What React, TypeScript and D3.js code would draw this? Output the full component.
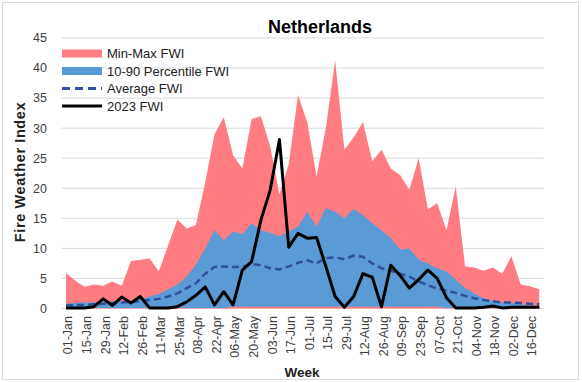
import React from 'react';
import * as d3 from 'd3';

const weeks = [
  '01-Jan', '08-Jan', '15-Jan', '22-Jan', '29-Jan', '05-Feb', '12-Feb', '19-Feb', '26-Feb', '04-Mar',
  '11-Mar', '18-Mar', '25-Mar', '01-Apr', '08-Apr', '15-Apr', '22-Apr', '29-Apr', '06-May', '13-May',
  '20-May', '27-May', '03-Jun', '10-Jun', '17-Jun', '24-Jun', '01-Jul', '08-Jul', '15-Jul', '22-Jul',
  '29-Jul', '05-Aug', '12-Aug', '19-Aug', '26-Aug', '02-Sep', '09-Sep', '16-Sep', '23-Sep', '30-Sep',
  '07-Oct', '14-Oct', '21-Oct', '28-Oct', '04-Nov', '11-Nov', '18-Nov', '25-Nov', '02-Dec', '09-Dec',
  '16-Dec', '23-Dec'
];

// Min-Max band
const minFwi = [
  0, 0, 0, 0, 0, 0, 0, 0, 0, 0,
  0, 0, 0, 0, 0, 0, 0, 0, 0, 0,
  0, 0, 0, 0, 0, 0, 0, 0, 0, 0,
  0, 0, 0, 0, 0, 0, 0, 0, 0, 0,
  0, 0, 0, 0, 0, 0, 0, 0, 0, 0,
  0, 0
];
const maxFwi = [
  5.9, 4.6, 3.6, 4.0, 3.8, 4.5, 3.8, 7.9, 8.1, 8.3,
  6.2, 10.5, 14.8, 13.3, 13.9, 21, 29, 31.8, 25.5, 23.3,
  31.5, 32, 27, 19, 24, 35.5, 31, 22, 30, 41.3,
  26.4, 28.5, 31, 24.5, 26.4, 23.3, 22.2, 19.7, 25, 16.5,
  17.5, 13, 20.3, 7, 6.8, 6.3, 6.8, 5.8, 8.7, 4.0,
  3.7, 3.2
];

// 10-90 percentile band
const p10Fwi = [
  0.1, 0.1, 0.1, 0.1, 0.1, 0.1, 0.1, 0.1, 0.1, 0.1,
  0.1, 0.1, 0.1, 0.1, 0.1, 0.1, 0.1, 0.1, 0.3, 0.3,
  0.3, 0.3, 0.3, 0.3, 0.3, 0.3, 0.3, 0.3, 0.3, 0.3,
  0.3, 0.3, 0.3, 0.3, 0.3, 0.3, 0.3, 0.3, 0.3, 0.3,
  0.3, 0.1, 0.1, 0.1, 0.1, 0.1, 0.1, 0.1, 0.1, 0.1,
  0.1, 0.1
];
const p90Fwi = [
  0.8, 0.9, 1.0, 1.0, 1.1, 1.2, 1.2, 1.3, 1.5, 2.0,
  2.4, 3.2, 4.0, 5.3, 7.3, 10, 13, 11.3, 12.8, 12.4,
  14.2, 13, 12.6, 12, 12.8, 13.6, 16.1, 13.6, 16.7, 16.1,
  15, 16.6, 15.5, 14.2, 13, 11.7, 9.8, 10, 8.1, 7.5,
  6.7, 6.2, 4.8, 3.4, 2.5, 1.7, 1.2, 1.0, 0.9, 0.7,
  0.5, 0.4
];

const avgFwi = [
  0.5, 0.6, 0.6, 0.7, 0.8, 0.9, 1.0, 1.1, 1.2, 1.4,
  1.6, 2.0, 2.5, 3.4, 4.2, 5.8, 6.9, 7.0, 6.9, 6.9,
  7.4, 7.2, 6.7, 6.5, 7.0, 7.6, 8.0, 7.5, 8.4, 8.5,
  8.2, 8.8, 8.6, 7.5, 6.7, 6.3, 5.8, 5.3, 4.5, 3.9,
  3.3, 3.0, 2.6, 2.1, 1.7, 1.4, 1.2, 1.0, 1.0, 0.9,
  0.8, 0.7
];

const fwi2023 = [
  0.1, 0.1, 0.1, 0.3, 1.6, 0.5, 1.9, 0.9, 2.0, 0.1,
  0.1, 0.1, 0.3, 1.1, 2.2, 3.6, 0.6, 2.8, 0.6, 6.4,
  7.8, 14.7, 19.7, 28.1, 10.2, 12.5, 11.7, 11.8, 7, 2,
  0.2, 2, 5.8, 5.2, 0.3, 7.2, 5.5, 3.4, 4.8, 6.4,
  5, 1.8, 0.1, 0.1, 0.1, 0.2, 0.4, 0.1, 0.2, 0.2,
  0.2, 0.2
];

const yTicks = [0, 5, 10, 15, 20, 25, 30, 35, 40, 45];

const legendItems = ['Min-Max FWI', '10-90 Percentile FWI', 'Average FWI', '2023  FWI'];

const W = 582;
const H = 382;
const RED = '#FF7C80';
const BLUE = '#5B9BD5';
const NAVY = '#2F4F9F';
const FONT = "'Liberation Sans', Arial, sans-serif";

const App: React.FC = () => {
  const x = d3.scalePoint<string>().domain(weeks).range([61.4, 543.9]).padding(0.5);
  const y = d3.scaleLinear().domain([0, 45]).range([308.5, 38]);

  const idx = weeks.map((_, i) => i);
  const px = (i: number) => x(weeks[i]) as number;

  const minMaxArea = d3.area<number>()
    .x(px)
    .y0(i => y(minFwi[i]))
    .y1(i => y(maxFwi[i]));
  const pctArea = d3.area<number>()
    .x(px)
    .y0(i => y(p10Fwi[i]))
    .y1(i => y(p90Fwi[i]));
  const avgLine = d3.line<number>().x(px).y(i => y(avgFwi[i]));
  const line2023 = d3.line<number>().x(px).y(i => y(fwi2023[i]));

  const [x0, x1] = [61.4, 543.9];

  return (
    <svg width={W} height={H} style={{ display: 'block', position: 'absolute', left: 0, top: 0 }}>
      <rect x={0} y={0} width={W} height={H} fill="#fff" />
      <rect x={2.5} y={2.5} width={576} height={377} fill="none" stroke="#d9d9d9" />

      {/* gridlines */}
      {yTicks.map(t => (
        <line key={t} x1={x0} x2={x1} y1={y(t)} y2={y(t)} stroke="#d9d9d9" strokeWidth={1} />
      ))}

      <path d={minMaxArea(idx) || ''} fill={RED} />
      <path d={pctArea(idx) || ''} fill={BLUE} />
      <path d={avgLine(idx) || ''} fill="none" stroke={NAVY} strokeWidth={2.5} strokeDasharray="7,4" />
      <path d={line2023(idx) || ''} fill="none" stroke="#000" strokeWidth={3} strokeLinejoin="round" />

      {/* y ticks */}
      {yTicks.map(t => (
        <text key={t} x={47} y={y(t)} dy="0.35em" textAnchor="end" fontSize={12.5} fontFamily={FONT} fill="#404040">
          {t}
        </text>
      ))}

      {/* x ticks */}
      {weeks.map((w, i) => i % 2 === 0 ? (
        <text
          key={w}
          transform={`translate(${px(i) + 2},316) rotate(-90)`}
          dy="0.35em"
          textAnchor="end"
          fontSize={12.5}
          fontFamily={FONT}
          fill="#404040"
        >
          {w}
        </text>
      ) : null)}

      <text x={320} y={33} textAnchor="middle" fontSize={18} fontWeight="bold" fontFamily={FONT} fill="#000">
        Netherlands
      </text>
      <text x={302} y={377} textAnchor="middle" fontSize={13.5} fontWeight="bold" fontFamily={FONT} fill="#222">
        Week
      </text>
      <text transform="translate(25,172) rotate(-90)" textAnchor="middle" fontSize={14.5} fontWeight="bold" letterSpacing={0.6} fontFamily={FONT} fill="#222">
        Fire Weather Index
      </text>

      {/* legend */}
      {legendItems.map((name, i) => {
        const ly = 53.5 + i * 17.5;
        return (
          <g key={name}>
            {i === 0 && <rect x={62} y={ly - 4} width={40} height={8} fill={RED} />}
            {i === 1 && <rect x={62} y={ly - 4} width={40} height={8} fill={BLUE} />}
            {i === 2 && <line x1={62} x2={102} y1={ly} y2={ly} stroke={NAVY} strokeWidth={3} strokeDasharray="8,5" />}
            {i === 3 && <line x1={62} x2={102} y1={ly} y2={ly} stroke="#000" strokeWidth={3} />}
            <text x={107} y={ly} dy="0.35em" fontSize={13} fontFamily={FONT} fill="#222">
              {name}
            </text>
          </g>
        );
      })}
    </svg>
  );
};

export default App;
